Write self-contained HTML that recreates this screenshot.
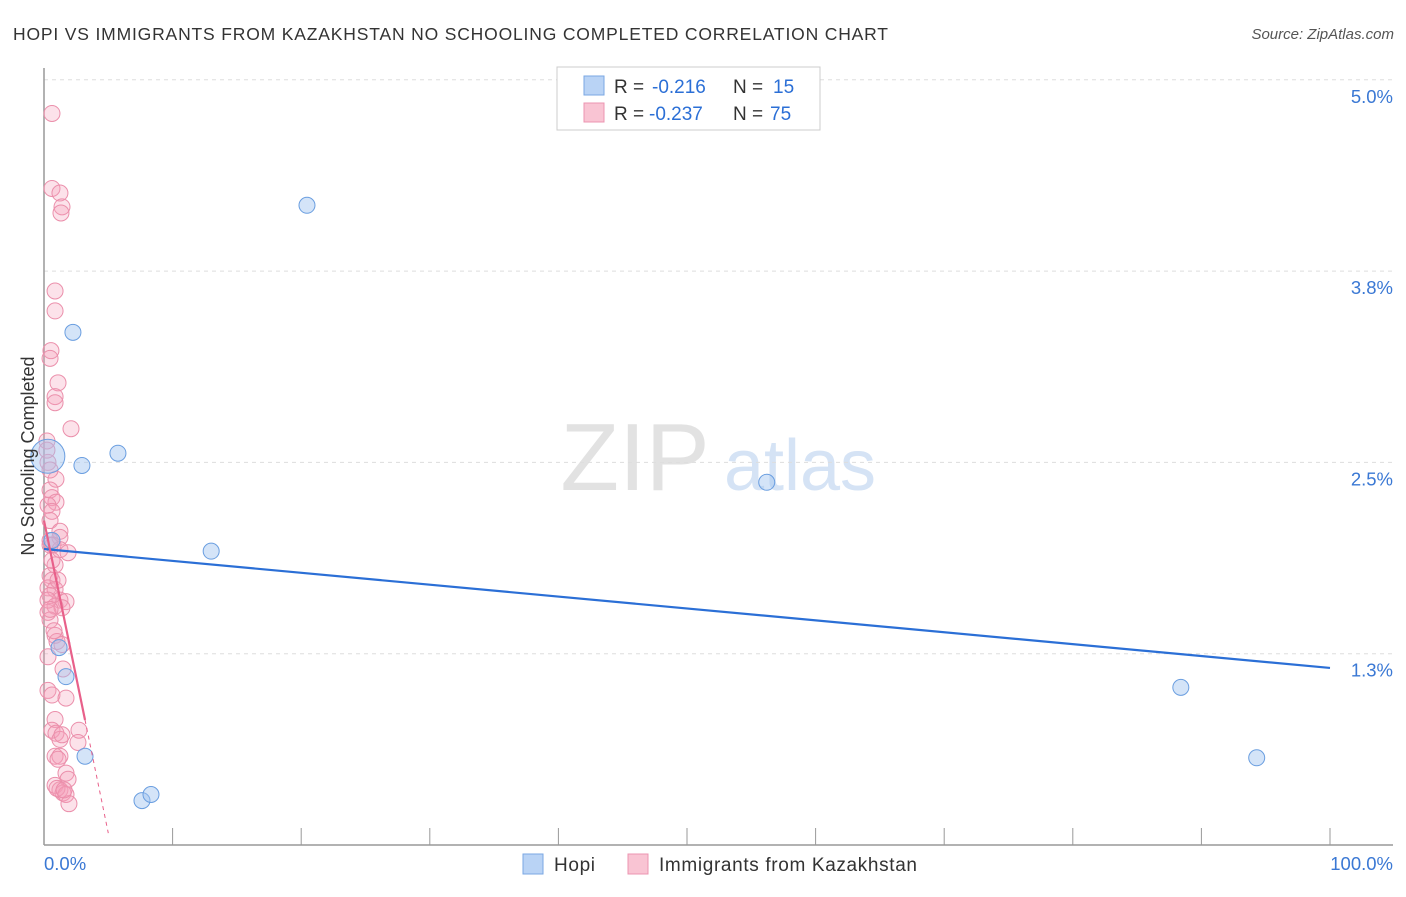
<!DOCTYPE html>
<html><head><meta charset="utf-8"><style>
body{margin:0;background:#fff;font-family:"Liberation Sans",sans-serif;}
svg text{font-family:"Liberation Sans",sans-serif;}
</style></head><body>
<svg width="1406" height="892" xmlns="http://www.w3.org/2000/svg">
<text x="13" y="40" font-size="17.5" fill="#333" textLength="875" lengthAdjust="spacing">HOPI VS IMMIGRANTS FROM KAZAKHSTAN NO SCHOOLING COMPLETED CORRELATION CHART</text>
<text x="1394" y="39" font-size="15" fill="#555" text-anchor="end" font-style="italic">Source: ZipAtlas.com</text>
<g>
<text x="635" y="490" font-size="96" fill="#e2e2e2" text-anchor="middle" font-family="Liberation Serif">ZIP</text>
<text x="800" y="490" font-size="72" fill="#d5e3f5" text-anchor="middle">atlas</text>
</g>
<g id="grid"></g>
<g id="axes"></g>
<g id="marks"></g>
<text transform="translate(34,456) rotate(-90)" font-size="18" fill="#333" text-anchor="middle">No Schooling Completed</text>
<g>
<rect x="557" y="67" width="263" height="63" fill="#fff" stroke="#ccc"/>
<rect x="584" y="76" width="20" height="19" fill="#b9d3f5" stroke="#7aa7e3"/>
<rect x="584" y="103" width="20" height="19" fill="#f9c4d3" stroke="#ec94b0"/>
<text x="614" y="93" font-size="19" fill="#333">R =</text>
<text x="652" y="93" font-size="19" fill="#2b6fd6">-0.216</text>
<text x="733" y="93" font-size="19" fill="#333">N =</text>
<text x="773" y="93" font-size="19" fill="#2b6fd6">15</text>
<text x="614" y="120" font-size="19" fill="#333">R =</text>
<text x="649" y="120" font-size="19" fill="#2b6fd6">-0.237</text>
<text x="733" y="120" font-size="19" fill="#333">N =</text>
<text x="770" y="120" font-size="19" fill="#2b6fd6">75</text>
</g>
<g>
<rect x="523" y="854" width="20" height="20" fill="#b9d3f5" stroke="#7aa7e3"/>
<text x="554" y="871" font-size="19" fill="#333" textLength="41">Hopi</text>
<rect x="628" y="854" width="20" height="20" fill="#f9c4d3" stroke="#ec94b0"/>
<text x="659" y="871" font-size="19" fill="#333" textLength="258" lengthAdjust="spacing">Immigrants from Kazakhstan</text>
</g>
</svg>
<script>
const yTicks=[5.0,3.75,2.5,1.25];
const yTickLabels=["5.0%","3.8%","2.5%","1.3%"];
const xTicks=[0,10,20,30,40,50,60,70,80,90,100];
const hopiX=[20.45,2.25,5.75,2.95,0.3,13.0,56.2,1.17,1.71,3.19,7.62,8.32,88.4,94.3,0.62];
const hopiY=[4.18,3.35,2.56,2.48,2.54,1.92,2.37,1.29,1.10,0.58,0.29,0.33,1.03,0.57,1.99];
const hopiR=[8,8,8,8,17,8,8,8,8,8,8,8,8,8,8];
const kazX=[0.62,0.62,1.24,1.40,1.32,0.86,0.86,0.54,0.47,1.09,0.86,0.86,2.10,0.23,0.31,0.93,0.47,0.62,0.93,0.31,0.62,0.47,1.24,1.24,0.47,0.70,1.24,1.87,0.86,0.47,0.62,0.31,0.86,0.47,1.24,1.71,0.86,1.40,0.31,0.47,0.86,1.01,0.31,1.48,0.31,0.62,1.71,0.86,0.62,0.93,2.72,1.24,2.64,0.86,1.24,1.71,1.87,0.86,1.24,1.48,1.01,1.71,1.94,1.56,0.47,0.31,0.78,0.62,1.09,0.47,0.23,1.40,1.09,1.40,0.47];
const kazY=[4.78,4.29,4.26,4.17,4.13,3.62,3.49,3.23,3.18,3.02,2.93,2.89,2.72,2.64,2.50,2.39,2.32,2.27,2.24,2.22,2.18,2.12,2.05,2.01,1.99,1.96,1.93,1.91,1.83,1.76,1.73,1.68,1.67,1.63,1.60,1.59,1.56,1.55,1.52,1.47,1.37,1.33,1.23,1.15,1.01,0.98,0.96,0.82,0.75,0.73,0.75,0.69,0.67,0.58,0.58,0.47,0.43,0.39,0.36,0.34,0.37,0.33,0.27,0.36,1.96,1.60,1.40,1.86,1.73,2.45,2.58,1.31,0.56,0.72,1.54];
const hopiTrend=[1.934,1.157];
const kazTrend={x0:0,y0:2.12,x1:3.19,y1:0.817,x2:5.0};
const NS="http://www.w3.org/2000/svg";
const X=v=>44+v*12.86, Y=v=>845-v*153.04;
function mk(t,a,p){const e=document.createElementNS(NS,t);for(const k in a)e.setAttribute(k,a[k]);p.appendChild(e);return e;}
const grid=document.getElementById('grid'),axes=document.getElementById('axes'),marks=document.getElementById('marks');
yTicks.forEach((t,i)=>{
 const l=mk('line',{x1:44,x2:1393,y1:Y(t),y2:Y(t),stroke:'#ddd','stroke-dasharray':'4,4'},grid);
 
 
 const tx=mk('text',{x:1393,y:Y(t)+23,'font-size':18.5,fill:'#3a78d4','text-anchor':'end'},axes);
 tx.textContent=yTickLabels[i];
 
 
});
mk('line',{x1:44,x2:44,y1:68,y2:845,stroke:'#999','stroke-width':1.5},axes);
mk('line',{x1:44,x2:1393,y1:845,y2:845,stroke:'#999','stroke-width':1.5},axes);
xTicks.forEach(t=>{
 const l=mk('line',{x1:X(t),x2:X(t),y1:828,y2:845,stroke:'#999'},axes);
 
 
});
const xl=mk('text',{x:44,y:870,'font-size':18.5,fill:'#3a78d4'},axes);xl.textContent='0.0%';


const xr=mk('text',{x:1393,y:870,'font-size':18.5,fill:'#3a78d4','text-anchor':'end'},axes);xr.textContent='100.0%';


kazX.forEach((v,i)=>{
 const c=mk('circle',{cx:X(v),cy:Y(kazY[i]),r:8,fill:'rgba(244,160,185,0.3)',stroke:'#eb8fab','stroke-width':1},marks);
 
 
});
hopiX.forEach((v,i)=>{
 const c=mk('circle',{cx:X(v),cy:Y(hopiY[i]),r:hopiR[i],fill:'rgba(160,196,240,0.45)',stroke:'#6a9ee0','stroke-width':1},marks);
 
 
});
const hl=mk('line',{x1:X(0),y1:Y(hopiTrend[0]),x2:X(100),y2:Y(hopiTrend[1]),stroke:'#2b6fd6','stroke-width':2.2},marks);


const slope=(kazTrend.y1-kazTrend.y0)/(kazTrend.x1-kazTrend.x0);
const kl=mk('line',{x1:X(kazTrend.x0),y1:Y(kazTrend.y0),x2:X(kazTrend.x1),y2:Y(kazTrend.y1),stroke:'#e8608a','stroke-width':2.2},marks);


const kd=mk('line',{x1:X(kazTrend.x1),y1:Y(kazTrend.y1),x2:X(kazTrend.x2),y2:Y(kazTrend.y0+slope*kazTrend.x2),stroke:'#e8608a','stroke-width':1,'stroke-dasharray':'4,4'},marks);


</script>
</body></html>
